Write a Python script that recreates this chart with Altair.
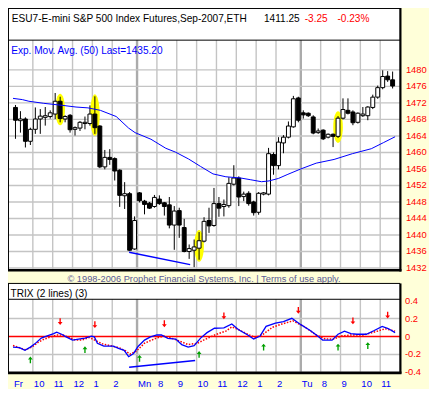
import math
import altair as alt
import pandas as pd

W, H = 421, 381
SX, SY = W / 437.0, H / 397.0
def X(p): return round(p * SX, 2)
def Y(p): return round(p * SY, 2)

FONT = "Liberation Sans"
BG = "#FFFFD9"

# ---------------- data ----------------
opens = [1470.9,1467.7,1468.1,1462.7,1465.6,1468.1,1468.5,1468.7,1469.3,1472.4,
         1468.1,1469.0,1465.6,1465.9,1467.0,1467.0,1469.3,1466.4,1456.5,1458.8,
         1458.5,1455.7,1449.5,1450.0,1436.6,1450.2,1448.2,1447.7,1446.9,1448.7,
         1447.8,1447.3,1442.4,1445.9,1441.8,1436.0,1436.3,1436.8,1438.5,1443.5,
         1442.3,1447.6,1446.9,1447.1,1452.3,1453.8,1449.3,1450.1,1448.0,1445.5,
         1449.9,1449.9,1459.5,1456.8,1462.3,1463.7,1466.2,1473.2,1469.6,1469.5,
         1468.6,1464.8,1465.4,1463.7,1464.4,1463.9,1468.3,1470.2,1469.8,1467.3,
         1468.9,1468.9,1470.9,1473.4,1475.7,1478.5,1477.6]
highs = [1471.5,1470.0,1468.5,1466.0,1470.9,1470.5,1471.0,1470.2,1474.4,1473.5,
         1469.0,1469.3,1466.3,1467.6,1468.7,1471.4,1473.6,1466.6,1460.6,1460.8,
         1458.8,1455.9,1452.8,1450.4,1444.5,1450.4,1448.5,1448.0,1449.7,1449.6,
         1448.0,1449.2,1447.0,1446.6,1443.9,1437.7,1438.9,1440.7,1444.3,1446.6,
         1451.4,1449.2,1448.6,1454.0,1456.9,1454.2,1450.5,1450.6,1448.3,1450.4,
         1450.4,1461.1,1460.0,1463.7,1464.2,1467.5,1473.7,1473.5,1470.2,1469.7,
         1469.0,1465.8,1465.6,1464.6,1464.6,1468.8,1473.1,1473.1,1470.2,1469.7,
         1471.0,1471.2,1474.0,1476.2,1479.9,1479.7,1479.6]
lows = [1463.3,1464.8,1461.2,1461.8,1464.5,1464.5,1466.5,1468.2,1468.1,1467.3,
        1467.3,1464.8,1464.1,1465.2,1465.6,1466.5,1464.5,1456.2,1455.9,1457.0,
        1453.2,1446.8,1446.3,1436.2,1436.4,1447.9,1445.0,1446.3,1446.6,1447.3,
        1444.7,1441.6,1436.4,1439.3,1435.8,1434.2,1432.2,1434.0,1438.2,1440.5,
        1442.0,1444.4,1444.5,1446.6,1452.0,1447.0,1448.2,1447.1,1444.7,1444.9,
        1449.6,1449.6,1454.6,1455.9,1459.8,1463.4,1466.0,1467.3,1468.2,1468.6,
        1464.4,1464.5,1463.0,1463.4,1461.3,1463.5,1468.0,1469.2,1466.6,1467.0,
        1468.6,1467.8,1470.5,1473.0,1475.3,1477.1,1475.5]
closes = [1467.8,1468.1,1462.7,1465.6,1468.1,1468.8,1468.9,1469.6,1472.4,1468.2,
          1468.7,1465.5,1466.0,1467.3,1467.3,1469.3,1466.0,1456.5,1458.8,1458.3,
          1455.5,1449.6,1450.0,1436.3,1443.5,1448.3,1447.4,1446.5,1449.1,1447.6,
          1446.9,1442.4,1445.8,1442.4,1436.0,1436.7,1437.1,1438.6,1443.3,1442.2,
          1447.6,1446.5,1447.4,1452.5,1453.8,1449.2,1449.9,1447.6,1445.4,1450.1,
          1450.2,1459.7,1456.8,1462.5,1463.7,1466.4,1473.0,1467.8,1469.1,1468.9,
          1464.7,1465.2,1463.3,1464.4,1463.9,1468.3,1470.4,1469.5,1467.2,1469.5,
          1469.3,1471.0,1473.4,1475.7,1478.4,1477.6,1476.1]

ema_x = [-0.5,1.4,2.7,5.7,9.5,12.2,14.6,17.1,20.3,22.8,24.1,27.3,30.3,32.2,34.9,37.3,
         39.8,42.4,45.4,47.3,49.6,51.1,53.0,54.9,57.5,60.6,64.2,67.9,71.7,74.2,76.5]
ema_v = [1473.1,1472.8,1472.4,1471.9,1471.4,1471.0,1470.8,1470.2,1468.7,1465.9,1464.8,
         1463.2,1461.0,1460.1,1458.4,1456.6,1454.8,1454.1,1453.8,1453.4,1452.9,1453.1,
         1453.7,1454.7,1456.0,1457.4,1458.3,1459.7,1460.9,1462.4,1463.8]

trix_x = [-0.5,0.8,1.9,3.0,3.9,5.2,6.4,7.7,8.3,9.3,10.2,11.5,12.7,14.0,15.3,15.9,16.5,
          17.8,19.7,20.9,21.9,22.8,23.8,24.7,26.0,27.2,28.5,29.4,30.7,32.3,33.5,34.8,
          36.0,37.3,38.6,40.1,42.0,43.6,44.9,46.8,48.0,49.3,50.5,52.4,54.0,55.7,57.5,
          59.4,60.9,61.9,63.8,65.0,66.3,67.6,68.8,70.7,72.3,73.9,75.1,76.5]
trix_v = [-0.118,-0.125,-0.154,-0.118,-0.082,-0.018,0.006,0.032,0.049,0.025,-0.004,
          -0.040,-0.029,-0.018,0.003,-0.004,-0.075,-0.107,-0.107,-0.136,-0.154,-0.225,
          -0.189,-0.111,-0.040,-0.004,0.017,0.017,-0.021,-0.029,-0.090,-0.118,-0.101,
          -0.018,0.043,0.092,0.096,0.139,0.078,0.017,-0.029,0.006,0.113,0.150,0.167,
          0.203,0.132,0.067,0.006,-0.040,-0.040,0.025,0.060,0.032,0.025,0.025,0.067,
          0.113,0.089,0.043]
sig_x = [-0.5,0.8,2.0,3.3,4.6,5.8,7.1,8.3,9.6,10.8,12.1,13.4,14.9,16.2,17.5,19.0,20.9,
         22.2,23.1,24.4,26.0,27.9,29.8,31.0,32.9,34.8,36.7,37.9,40.5,42.4,43.6,44.9,
         46.8,48.3,49.9,51.8,53.7,55.9,58.1,60.6,62.5,64.1,65.7,67.6,70.1,72.6,74.5,76.5]
sig_v = [-0.101,-0.125,-0.147,-0.118,-0.064,-0.029,-0.004,0.017,0.017,-0.011,-0.040,
         -0.040,-0.011,-0.047,-0.082,-0.101,-0.125,-0.161,-0.197,-0.161,-0.075,-0.029,
         0.006,-0.011,-0.047,-0.090,-0.075,-0.040,0.025,0.060,0.107,0.078,0.025,-0.011,
         0.025,0.103,0.139,0.174,0.113,0.017,-0.029,-0.029,0.006,0.017,0.017,0.054,
         0.086,0.060]

sell_bars = [9, 16, 30, 42, 57, 68, 75]
sell_vals = [0.167, 0.132, 0.142, 0.231, 0.292, 0.174, 0.239]
buy_bars = [3, 14, 25, 37, 50, 65, 71]
buy_vals = [-0.261, -0.147, -0.243, -0.200, -0.118, -0.118, -0.101]

highlight_bars = [9, 16, 37, 65]

div_price_x = [22.9, 35.2]
div_price_v = [1435.8, 1432.8]
div_trix_x = [22.9, 36.2]
div_trix_v = [-0.342, -0.268]

price_ticks = [1432, 1436, 1440, 1444, 1448, 1452, 1456, 1460, 1464, 1468, 1472, 1476, 1480]
trix_ticks = [0.4, 0.2, 0.0, -0.2, -0.4]
trix_tick_text = ["0.4", "0.2", "0", "-0.2", "-0.4"]
label_bounds = [0, 4, 8, 12, 16, 20, 25, 29, 33, 37, 41, 45, 49, 53, 58, 62, 66, 70, 74]
label_texts = ["Fr", "10", "11", "12", "1", "2", "Mn", "8", "9", "10", "11", "12",
               "1", "2", "Tu", "8", "9", "10", "11"]
hour_bounds = [4, 8, 12, 16, 20, 29, 33, 37, 41, 45, 49, 53, 62, 66, 70, 74]
day_bounds = [25, 58]

# ---------------- tables ----------------
df = pd.DataFrame({"bar": list(range(len(opens))), "open": opens, "high": highs,
                   "low": lows, "close": closes})
df["lo"] = df[["open", "close"]].min(axis=1)
df["hi"] = df[["open", "close"]].max(axis=1)
df["dir"] = ["up" if c >= o else "down" for o, c in zip(opens, closes)]

PX_PER_PT = 4.30 * SY
def ellipse_path(rx, n=32):
    pts = []
    for k in range(n):
        t = 2 * math.pi * k / n
        pts.append(f"{rx * math.cos(t):.3f},{math.sin(t):.3f}")
    return "M" + "L".join(pts) + "Z"

hl = df[df["bar"].isin(highlight_bars)].copy()
hl["mid"] = (hl["high"] + hl["low"]) / 2
hpx = [max(33 * SY, (h - l) * PX_PER_PT + 4) for h, l in zip(hl["high"], hl["low"])]
hl["sz"] = [p * p for p in hpx]
hl["shp"] = [ellipse_path(10 * SX / p) for p in hpx]

one = pd.DataFrame({"k": [0]})

xs = alt.Scale(domain=[-0.5, 76.5], range=[X(0), X(407)], nice=False, zero=False)
ysm = alt.Scale(domain=[1432, 1480], range=[Y(270.9), Y(64.5)], nice=False, zero=False)
yst = alt.Scale(domain=[-0.4, 0.4], range=[Y(379.7), Y(304.9)], nice=False, zero=False)

def XQ(f): return alt.X(f, type="quantitative", scale=xs, axis=None)
def YM(f): return alt.Y(f, type="quantitative", scale=ysm, axis=None)
def YT(f): return alt.Y(f, type="quantitative", scale=yst, axis=None)

def box(x1, y1, x2, y2, fill):
    return alt.Chart(one).mark_rect(fill=fill).encode(
        x=alt.value(X(x1)), x2=alt.value(X(x2)), y=alt.value(Y(y1)), y2=alt.value(Y(y2)))

def hline(x1, x2, y, w, color="black"):
    return alt.Chart(one).mark_rule(color=color, strokeWidth=w).encode(
        x=alt.value(X(x1)), x2=alt.value(X(x2)), y=alt.value(Y(y)))

def vline(x, y1, y2, w, color="black"):
    return alt.Chart(one).mark_rule(color=color, strokeWidth=w).encode(
        x=alt.value(X(x)), y=alt.value(Y(y1)), y2=alt.value(Y(y2)))

def label(x, y, text, color="black", size=10.1, align="left"):
    return alt.Chart(one).mark_text(align=align, baseline="middle", font=FONT,
                                    fontSize=size, color=color).encode(
        x=alt.value(X(x)), y=alt.value(Y(y)), text=alt.value(text))

hours_df = pd.DataFrame({"xb": [b - 0.5 for b in hour_bounds]})
days_df = pd.DataFrame({"xb": [b - 0.5 for b in day_bounds]})

def vgrid(data, y1, y2, color, w):
    return alt.Chart(data).mark_rule(color=color, strokeWidth=w).encode(
        x=XQ("xb"), y=alt.value(Y(y1)), y2=alt.value(Y(y2)))

GRID = "#c4c4c4"
DAY = "#ababab"

layers = []
# panel backgrounds
layers.append(box(0, 0, 407, 273, "white"))
layers.append(box(0, 287, 407, 380, "white"))
# grids
layers.append(vgrid(hours_df, 33.5, 272, GRID, 1.4))
layers.append(vgrid(days_df, 33.5, 272, DAY, 2.4))
layers.append(vgrid(hours_df, 303.5, 379, GRID, 1.4))
layers.append(vgrid(days_df, 303.5, 379, DAY, 2.4))
layers.append(alt.Chart(pd.DataFrame({"p": price_ticks})).mark_rule(color=GRID, strokeWidth=1.4).encode(
    y=YM("p"), x=alt.value(X(0)), x2=alt.value(X(407))))
layers.append(alt.Chart(pd.DataFrame({"p": [0.2, -0.2]})).mark_rule(color=GRID, strokeWidth=1.4).encode(
    y=YT("p"), x=alt.value(X(0)), x2=alt.value(X(407))))
# highlights
layers.append(alt.Chart(hl).mark_point(filled=True, color="#ffff00", opacity=1).encode(
    x=XQ("bar"), y=YM("mid"), size=alt.Size("sz:Q", scale=None, legend=None),
    shape=alt.Shape("shp:N", scale=None, legend=None)))
# candles
layers.append(alt.Chart(df).mark_rule(color="black", strokeWidth=1).encode(
    x=XQ("bar"), y=YM("low"), y2="high"))
layers.append(alt.Chart(df).mark_bar(size=3.9, stroke="black", strokeWidth=1).encode(
    x=XQ("bar"), y=YM("lo"), y2="hi",
    fill=alt.Fill("dir:N", scale=alt.Scale(domain=["up", "down"], range=["#ffffff", "#000000"]), legend=None)))
# EMA
layers.append(alt.Chart(pd.DataFrame({"x": ema_x, "v": ema_v})).mark_line(color="#0000ff", strokeWidth=1).encode(
    x=XQ("x"), y=YM("v")))
layers.append(alt.Chart(pd.DataFrame({"x": div_price_x, "v": div_price_v})).mark_line(color="#0000ff", strokeWidth=1.4).encode(
    x=XQ("x"), y=YM("v")))
# TRIX
layers.append(alt.Chart(pd.DataFrame({"p": [0.0]})).mark_rule(color="#ff0000", strokeWidth=1.5).encode(
    y=YT("p"), x=alt.value(X(0)), x2=alt.value(X(407))))
layers.append(alt.Chart(pd.DataFrame({"x": sig_x, "v": sig_v})).mark_line(
    color="#ff0000", strokeWidth=1.5, strokeDash=[1.5, 1.5]).encode(x=XQ("x"), y=YT("v")))
layers.append(alt.Chart(pd.DataFrame({"x": trix_x, "v": trix_v})).mark_line(color="#0000ff", strokeWidth=1.3).encode(
    x=XQ("x"), y=YT("v")))
layers.append(alt.Chart(pd.DataFrame({"x": div_trix_x, "v": div_trix_v})).mark_line(color="#0000ff", strokeWidth=1.4).encode(
    x=XQ("x"), y=YT("v")))
DOWN = "M-0.2,-1L0.2,-1L0.2,0.15L0.7,0.15L0,1L-0.7,0.15L-0.2,0.15Z"
UP = "M-0.2,1L0.2,1L0.2,-0.15L0.7,-0.15L0,-1L-0.7,-0.15L-0.2,-0.15Z"
layers.append(alt.Chart(pd.DataFrame({"b": sell_bars, "v": sell_vals})).mark_point(
    shape=DOWN, filled=True, color="#ff0000", opacity=1, size=46).encode(x=XQ("b"), y=YT("v")))
layers.append(alt.Chart(pd.DataFrame({"b": buy_bars, "v": buy_vals})).mark_point(
    shape=UP, filled=True, color="#00a000", opacity=1, size=46).encode(x=XQ("b"), y=YT("v")))
# axis labels
layers.append(alt.Chart(pd.DataFrame({"p": price_ticks, "t": [str(p) for p in price_ticks]})).mark_text(
    align="left", baseline="middle", font=FONT, fontSize=9.4, color="#ff0000").encode(
    x=alt.value(X(413)), y=YM("p"), text="t:N"))
layers.append(alt.Chart(pd.DataFrame({"p": trix_ticks, "t": trix_tick_text})).mark_text(
    align="left", baseline="middle", font=FONT, fontSize=9.4, color="#ff0000").encode(
    x=alt.value(X(412)), y=YT("p"), text="t:N"))
layers.append(alt.Chart(pd.DataFrame({"xb": [b - 0.5 for b in label_bounds], "t": label_texts})).mark_text(
    align="left", baseline="middle", font=FONT, fontSize=9.5, color="#0000ff", dx=1).encode(
    x=XQ("xb"), y=alt.value(Y(391.5)), text="t:N"))
# texts
layers.append(label(4, 11, "ESU7-E-mini S&P 500 Index Futures,Sep-2007,ETH"))
layers.append(label(265.7, 11, "1411.25"))
layers.append(label(308, 11, "-3.25", color="#ff0000"))
layers.append(label(342, 11, "-0.23%", color="#ff0000"))
layers.append(label(3.3, 44.5, "Exp. Mov. Avg. (50) Last=1435.20", color="#0000ff"))
layers.append(label(2.7, 297.7, "TRIX (2 lines) (3)"))
layers.append(label(203.5, 282.3, "\u00a9 1998-2006 Prophet Financial Systems, Inc. | Terms of use apply.",
                    color="#5a5a96", size=9.25, align="center"))
# frames
for (t, b) in [(0.5, 272.5), (287, 379.5)]:
    layers.append(hline(0, 407, t, 1))
    layers.append(vline(0.5, t, b, 1))
layers.append(hline(0, 407, 33.5, 1))
layers.append(hline(0, 407, 303.5, 1))
layers.append(vline(407.3, 0, 274.5, 2.2))
layers.append(hline(0, 408.4, 273.3, 2.6))
layers.append(vline(407.3, 287, 381, 2.2))
layers.append(hline(0, 408.4, 380.2, 2.6))

chart = alt.layer(*layers).resolve_scale(y="independent").properties(
    width=W, height=H, autosize=alt.AutoSizeParams(type="none"), padding=0, background=BG
).configure_view(stroke=None)

chart.save("out.html", embed_options={"renderer": "svg", "actions": False})
